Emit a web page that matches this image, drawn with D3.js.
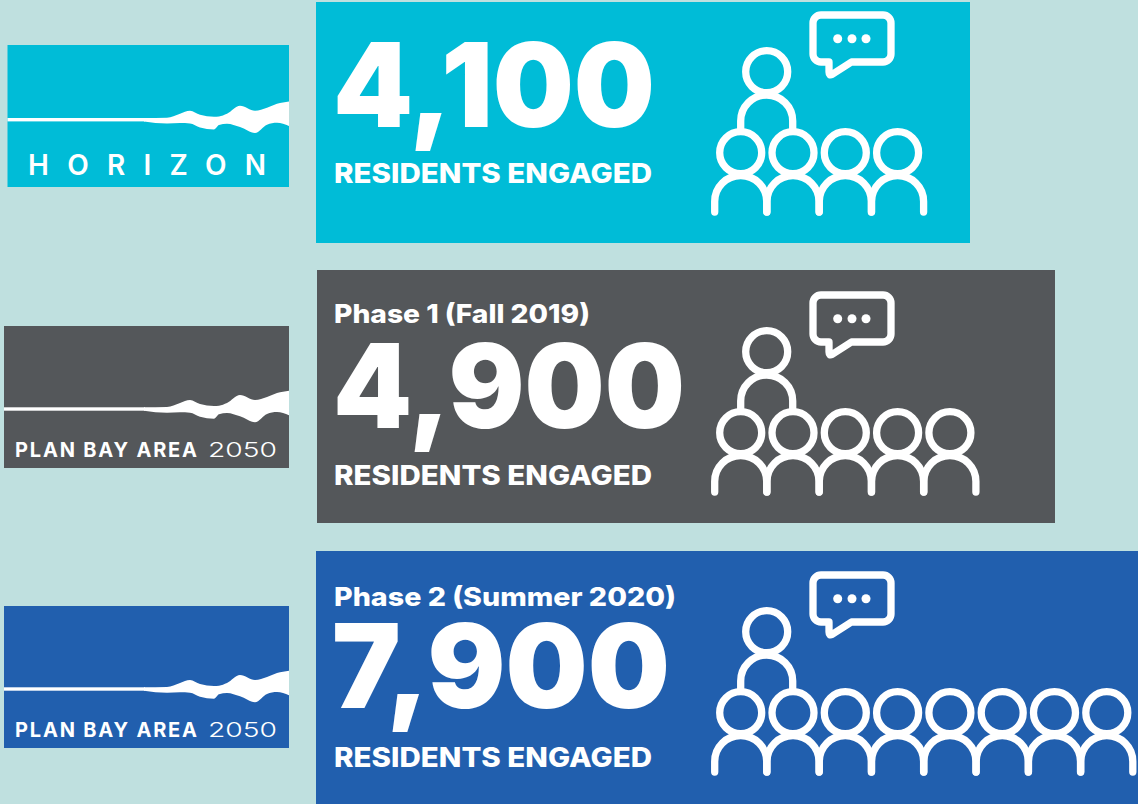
<!DOCTYPE html>
<html lang="en">
  <meta charset="utf-8">
  <style>
    html, body { margin: 0; padding: 0; background: #bfe0df; }
    svg { display: block; }
    text { font-family: Inter, "Noto Sans", sans-serif; fill: #fff; }
  </style>
  <body>
    <svg width="1138" height="804"></svg>

    <script src="https://d3js.org/d3.v7.min.js"></script>
    <script>
    // values
    const phaseLabels = ['', 'Phase 1 (Fall 2019)', 'Phase 2 (Summer 2020)']
    const residents = [4100, 4900, 7900]
    const iconCounts = [4, 5, 8]
    const caption = 'RESIDENTS ENGAGED'

    // logos
    const logoNames = ['HORIZON', 'PLAN BAY AREA', 'PLAN BAY AREA']
    const logoYears = ['', '2050', '2050']

    // panel layout
    const colors = ['#00bcd7', '#54575a', '#215fae']
    const panelX = [316, 317, 316]
    const panelY = [2, 270, 551]
    const panelW = [654, 738, 822]
    const panelH = [241, 253, 253]
    const logoX = [7.5, 4, 4]
    const logoY = [45, 326, 606]
    const logoLine = [119.7, 409, 689]
    const numberBase = [127, 428, 708]
    const numberW = [322, 352, 338]
    const numberX = [333, 333, 332]
    const phaseBase = [0, 323, 606]
    const phaseW = [0, 256, 342]
    const captionBase = [183, 485, 767]
    const iconDy = [0, 280, 560]

    // wave outline of the logo, offsets from the right end of the line
    const waveX = [-145, -122, -109, -99, -89, -75, -70, -62, -49, -34, -22, -12, 0]
    const waveTop = [-1.7, -2, -6, -9, -5, -3, -3.3, -6, -14, -9, -12, -16, -18.3]
    const waveBot = [1.7, 3.7, 3.3, 3.7, 7.7, 9.7, 5.3, 4, 7.3, 13.3, 5, 3, 6.3]

    let svg = d3.select('svg')
    let fmt = d3.format(',')

    let waveArea = d3.area()
      .x((d, i) => waveX[i])
      .y0((d, i) => waveTop[i])
      .y1((d, i) => waveBot[i])
      .curve(d3.curveMonotoneX)

    // one row per phase
    let rows = svg.selectAll('g.row')
      .data(residents).enter()
      .append('g')
      .attr('class', 'row')

    // logo box
    rows.append('rect')
      .attr('x', (d, i) => logoX[i])
      .attr('y', (d, i) => logoY[i])
      .attr('width', (d, i) => 289 - logoX[i])
      .attr('height', 142)
      .attr('fill', (d, i) => colors[i])

    // thin part of the line, then the wave
    rows.append('rect')
      .attr('x', (d, i) => logoX[i])
      .attr('y', (d, i) => logoLine[i] - 1.7)
      .attr('width', (d, i) => 145 - logoX[i])
      .attr('height', 3.4)
      .attr('fill', '#fff')

    rows.append('path')
      .attr('transform', (d, i) => `translate(289,${logoLine[i]})`)
      .attr('d', waveArea(waveX))
      .attr('fill', '#fff')

    rows.append('text')
      .attr('x', (d, i) => i == 0 ? 28 : 15)
      .attr('y', (d, i) => i == 0 ? 175 : logoY[i] + 131)
      .attr('textLength', (d, i) => i == 0 ? 238 : 182)
      .attr('font-size', (d, i) => i == 0 ? 28 : 20)
      .attr('font-weight', (d, i) => i == 0 ? 600 : 700)
      .text((d, i) => logoNames[i])

    rows.filter((d, i) => logoYears[i]).append('text')
      .attr('x', 208)
      .attr('y', (d, i) => logoY[i + 1] + 131)
      .attr('textLength', 69)
      .attr('lengthAdjust', 'spacingAndGlyphs')
      .attr('font-size', 20)
      .attr('font-weight', 300)
      .text((d, i) => logoYears[i + 1])

    // main panel
    rows.append('rect')
      .attr('x', (d, i) => panelX[i])
      .attr('y', (d, i) => panelY[i])
      .attr('width', (d, i) => panelW[i])
      .attr('height', (d, i) => panelH[i])
      .attr('fill', (d, i) => colors[i])

    rows.filter((d, i) => phaseLabels[i]).append('text')
      .attr('x', 334)
      .attr('y', (d, i) => phaseBase[i + 1])
      .attr('textLength', (d, i) => phaseW[i + 1])
      .attr('lengthAdjust', 'spacingAndGlyphs')
      .attr('font-size', 26)
      .attr('font-weight', 800)
      .text((d, i) => phaseLabels[i + 1])

    rows.append('text')
      .attr('x', (d, i) => numberX[i])
      .attr('y', (d, i) => numberBase[i])
      .attr('textLength', (d, i) => numberW[i])
      .attr('lengthAdjust', 'spacingAndGlyphs')
      .attr('font-size', 117)
      .attr('font-weight', 900)
      .text(d => fmt(d))

    rows.append('text')
      .attr('x', 334)
      .attr('y', (d, i) => captionBase[i])
      .attr('textLength', 318)
      .attr('lengthAdjust', 'spacingAndGlyphs')
      .attr('font-size', 27)
      .attr('font-weight', 800)
      .text(caption)

    // people icons
    let headX = d3.scaleLinear().domain([0, 1]).range([740.7, 793])
    let iconStyle = g => g.attr('fill', 'none').attr('stroke', '#fff')
      .attr('stroke-width', 7.3).attr('stroke-linecap', 'round')

    let icons = rows.append('g')
      .attr('transform', (d, i) => `translate(0,${iconDy[i]})`)
      .call(iconStyle)

    // speaker
    icons.append('circle').attr('cx', 766.7).attr('cy', 71.7).attr('r', 21)
    icons.append('path').attr('d', 'M740.7,129V121A26,26 0 0 1 792.7,121V129')

    // speech bubble
    icons.append('path')
      .attr('transform', 'translate(0,-1)')
      .attr('stroke-linejoin', 'round')
      .attr('d', 'M821,16H883A8,8 0 0 1 891,24V55A8,8 0 0 1 883,63H851.5L832,75.5Q829,77 829,73V63H821A8,8 0 0 1 813,55V24A8,8 0 0 1 821,16Z')
    icons.append('g').attr('stroke', 'none').attr('fill', '#fff')
      .selectAll('circle').data([837.7, 852, 866]).enter()
      .append('circle')
      .attr('cx', d => d).attr('cy', 38.7).attr('r', 4.5)

    // audience
    let audience = icons.selectAll('g.person')
      .data((d, i) => d3.range(iconCounts[i])).enter()
      .append('g')
      .attr('class', 'person')

    audience.append('circle')
      .attr('cx', d => headX(d)).attr('cy', 152.7).attr('r', 21)
    audience.append('path')
      .attr('d', d => {
        let x = headX(d)
        return `M${x - 26},212V201.5A26,26 0 0 1 ${x + 26},201.5V212`
      })
    </script>
  </body>
</html>
